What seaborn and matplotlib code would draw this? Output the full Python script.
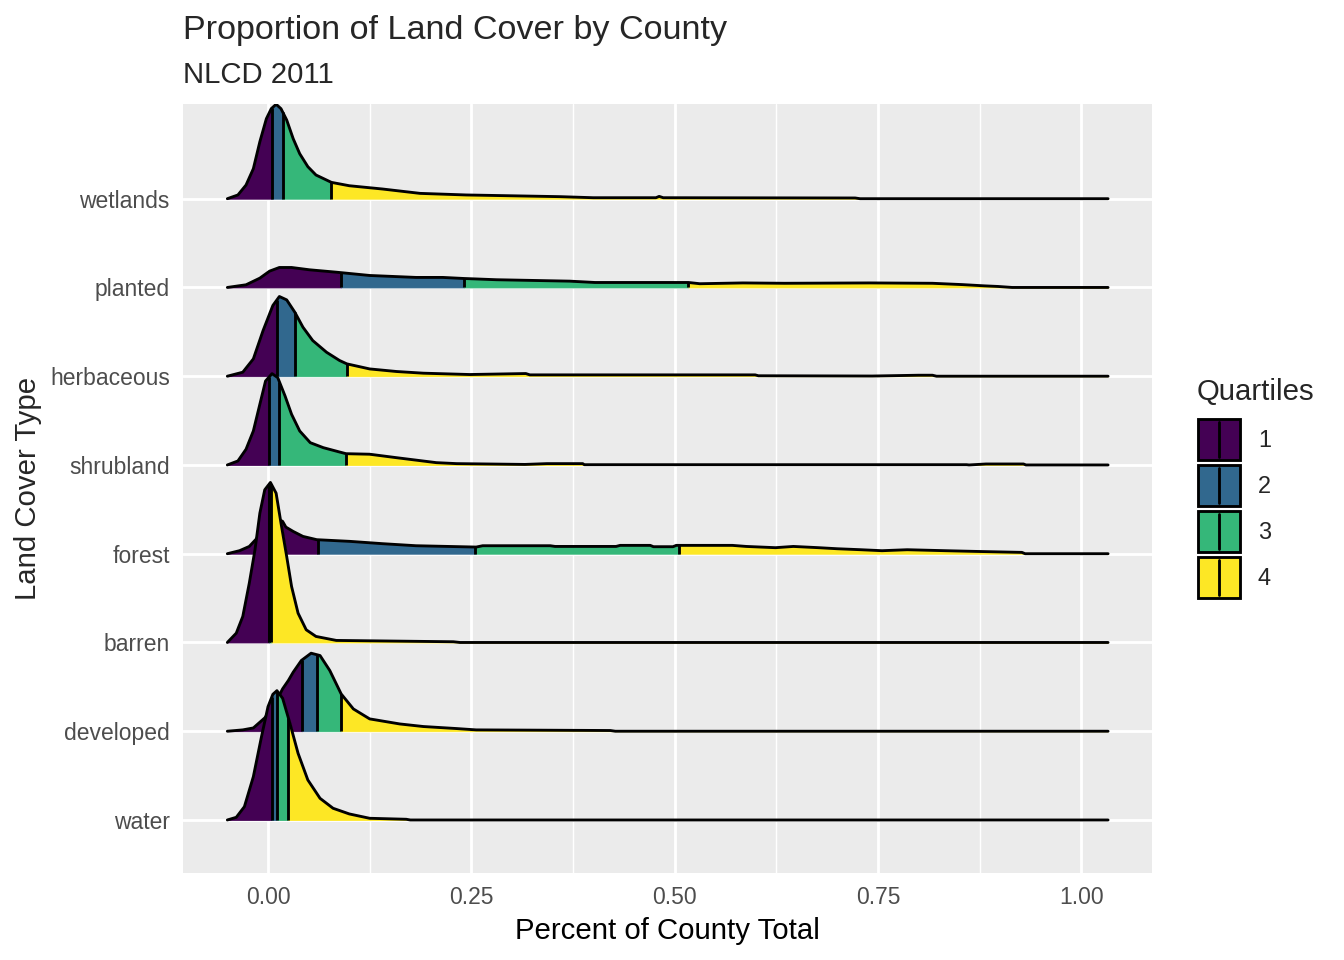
import numpy as np
import matplotlib
matplotlib.use("Agg")
import matplotlib.pyplot as plt
from matplotlib.patches import Patch, Rectangle
from matplotlib.lines import Line2D
from matplotlib.legend_handler import HandlerBase
import seaborn as sns

# land cover types, bottom to top
cover_types = ["water", "developed", "barren", "forest", "shrubland", "herbaceous", "planted", "wetlands"]
quartile_labels = ["1", "2", "3", "4"]
quartile_colors = ["#440154", "#31688E", "#35B779", "#FDE725"]

# ridge profiles: x = share of county, h = ridge height (in rows)
water_x = [-0.050, -0.039, -0.029, -0.018, -0.008, 0.000, 0.006, 0.011, 0.018, 0.027, 0.037, 0.049, 0.064, 0.080, 0.100, 0.125, 0.170, 0.175, 1.033]
water_h = [0.0, 0.030, 0.150, 0.488, 0.938, 1.276, 1.416, 1.457, 1.371, 1.089, 0.751, 0.451, 0.244, 0.132, 0.068, 0.019, 0.008, 0.0, 0.0]
water_q = [0.0045, 0.011, 0.025]

developed_x = [-0.050, -0.031, -0.018, -0.004, 0.007, 0.018, 0.025, 0.031, 0.041, 0.053, 0.064, 0.076, 0.090, 0.105, 0.125, 0.162, 0.191, 0.232, 0.256, 0.421, 0.427, 1.033]
developed_h = [0.0, 0.015, 0.037, 0.150, 0.280, 0.478, 0.571, 0.665, 0.797, 0.879, 0.853, 0.684, 0.420, 0.251, 0.139, 0.082, 0.053, 0.030, 0.015, 0.008, 0.0, 0.0]
developed_q = [0.042, 0.060, 0.090]

barren_x = [-0.050, -0.039, -0.031, -0.023, -0.016, -0.010, -0.004, 0.003, 0.010, 0.016, 0.023, 0.029, 0.037, 0.047, 0.059, 0.084, 0.228, 0.236, 1.033]
barren_h = [0.0, 0.105, 0.293, 0.668, 1.044, 1.457, 1.720, 1.803, 1.682, 1.344, 0.969, 0.631, 0.330, 0.143, 0.068, 0.023, 0.008, 0.0, 0.0]
barren_q = [0.0012, 0.0018, 0.0042]

forest_x = [-0.050, -0.035, -0.023, -0.014, -0.007, 0.002, 0.011, 0.018, 0.022, 0.031, 0.043, 0.060, 0.101, 0.141, 0.182, 0.256, 0.264, 0.347, 0.353, 0.428, 0.433, 0.470, 0.474, 0.498, 0.502, 0.571, 0.588, 0.624, 0.646, 0.677, 0.700, 0.729, 0.755, 0.786, 0.833, 0.870, 0.927, 0.931, 1.033]
forest_h = [0.0, 0.034, 0.082, 0.170, 0.280, 0.370, 0.400, 0.364, 0.300, 0.251, 0.195, 0.158, 0.139, 0.113, 0.090, 0.075, 0.090, 0.090, 0.082, 0.082, 0.094, 0.094, 0.079, 0.079, 0.094, 0.094, 0.082, 0.068, 0.082, 0.068, 0.056, 0.045, 0.034, 0.045, 0.034, 0.026, 0.015, 0.0, 0.0]
forest_q = [0.061, 0.255, 0.506]

shrubland_x = [-0.050, -0.037, -0.027, -0.018, -0.010, -0.003, 0.005, 0.012, 0.021, 0.029, 0.039, 0.052, 0.068, 0.088, 0.096, 0.125, 0.158, 0.207, 0.232, 0.316, 0.343, 0.387, 0.389, 0.859, 0.862, 0.883, 0.929, 0.932, 1.033]
shrubland_h = [0.0, 0.045, 0.177, 0.383, 0.684, 0.946, 1.029, 0.984, 0.777, 0.571, 0.383, 0.251, 0.195, 0.146, 0.127, 0.121, 0.082, 0.026, 0.015, 0.006, 0.015, 0.015, 0.003, 0.003, 0.0, 0.011, 0.011, 0.0, 0.0]
shrubland_q = [0.001, 0.014, 0.096]

herbaceous_x = [-0.050, -0.031, -0.018, -0.006, 0.006, 0.014, 0.023, 0.033, 0.043, 0.055, 0.072, 0.088, 0.097, 0.125, 0.158, 0.191, 0.248, 0.317, 0.322, 0.599, 0.603, 0.743, 0.800, 0.817, 0.822, 1.033]
herbaceous_h = [0.0, 0.045, 0.195, 0.515, 0.797, 0.898, 0.860, 0.721, 0.552, 0.402, 0.270, 0.177, 0.139, 0.082, 0.053, 0.034, 0.019, 0.030, 0.015, 0.015, 0.005, 0.002, 0.011, 0.011, 0.0, 0.0]
herbaceous_q = [0.011, 0.033, 0.097]

planted_x = [-0.050, -0.027, -0.010, 0.002, 0.014, 0.029, 0.051, 0.084, 0.125, 0.182, 0.215, 0.241, 0.281, 0.371, 0.402, 0.517, 0.531, 0.584, 0.635, 0.740, 0.817, 0.854, 0.881, 0.898, 0.915, 1.033]
planted_h = [0.0, 0.030, 0.105, 0.184, 0.225, 0.225, 0.199, 0.172, 0.135, 0.113, 0.113, 0.101, 0.087, 0.071, 0.056, 0.056, 0.042, 0.051, 0.047, 0.051, 0.047, 0.032, 0.018, 0.011, 0.0, 0.0]
planted_q = [0.090, 0.241, 0.517]

wetlands_x = [-0.050, -0.037, -0.027, -0.018, -0.010, -0.002, 0.004, 0.010, 0.016, 0.023, 0.031, 0.039, 0.049, 0.059, 0.078, 0.100, 0.141, 0.187, 0.244, 0.359, 0.400, 0.477, 0.481, 0.486, 0.722, 0.728, 1.033]
wetlands_h = [0.0, 0.042, 0.154, 0.338, 0.642, 0.901, 1.014, 1.064, 1.014, 0.887, 0.676, 0.507, 0.361, 0.267, 0.184, 0.146, 0.109, 0.060, 0.042, 0.023, 0.011, 0.011, 0.026, 0.011, 0.008, 0.0, 0.0]
wetlands_q = [0.005, 0.018, 0.077]

ridges = {
    "water": (water_x, water_h, water_q),
    "developed": (developed_x, developed_h, developed_q),
    "barren": (barren_x, barren_h, barren_q),
    "forest": (forest_x, forest_h, forest_q),
    "shrubland": (shrubland_x, shrubland_h, shrubland_q),
    "herbaceous": (herbaceous_x, herbaceous_h, herbaceous_q),
    "planted": (planted_x, planted_h, planted_q),
    "wetlands": (wetlands_x, wetlands_h, wetlands_q),
}

sns.set_theme(style="darkgrid", rc={
    "axes.facecolor": "#EBEBEB",
    "grid.color": "white",
    "xtick.major.size": 2.75,
    "ytick.major.size": 2.75,
    "xtick.major.width": 1.07,
    "ytick.major.width": 1.07,
    "xtick.color": "#333333",
    "ytick.color": "#333333",
})
plt.rcParams["font.family"] = ["Liberation Sans", "DejaVu Sans"]

LW = 1.07

fig = plt.figure(figsize=(7, 5), dpi=192)
ax = fig.add_axes([183 / 1344, 1 - 872.7 / 960, (1152 - 183) / 1344, (872.7 - 104) / 960])


def draw_ridge(ax, pos, xs, hs, qs):
    xs = np.asarray(xs, dtype=float)
    hs = np.asarray(hs, dtype=float)
    z = 10 + (8 - pos)
    edges = [xs[0]] + list(qs) + [xs[-1]]
    for k in range(4):
        lo, hi = edges[k], edges[k + 1]
        inside = (xs > lo) & (xs < hi)
        seg_x = np.concatenate([[lo], xs[inside], [hi]])
        seg_h = np.interp(seg_x, xs, hs)
        ax.fill_between(seg_x, pos, pos + seg_h, color=quartile_colors[k], lw=0.3,
                        edgecolor=quartile_colors[k], zorder=z)
    for q in qs:
        ax.plot([q, q], [pos, pos + np.interp(q, xs, hs)], color="black", lw=LW,
                zorder=z + 0.1, solid_capstyle="butt")
    sns.lineplot(x=xs, y=pos + hs, color="black", lw=LW, ax=ax, zorder=z + 0.2,
                 estimator=None, sort=False)


for i, name in enumerate(cover_types):
    xs, hs, qs = ridges[name]
    draw_ridge(ax, i, xs, hs, qs)

ax.set_xlim(-0.1045, 1.087)
ax.set_ylim(-0.594, 8.067)
ax.set_xticks([0, 0.25, 0.5, 0.75, 1.0])
ax.set_xticklabels(["0.00", "0.25", "0.50", "0.75", "1.00"])
ax.set_xticks([0.125, 0.375, 0.625, 0.875], minor=True)
ax.set_yticks(range(len(cover_types)))
ax.set_yticklabels(cover_types)
ax.grid(which="major", color="white", lw=LW)
ax.grid(which="minor", axis="x", color="white", lw=LW / 2)
ax.set_axisbelow(True)
ax.tick_params(axis="both", which="major", labelsize=8.6, labelcolor="#4D4D4D", pad=2.2)
ax.tick_params(axis="x", which="minor", length=0)
for s in ax.spines.values():
    s.set_visible(False)

ax.set_xlabel("Percent of County Total", fontsize=11, color="black", labelpad=3)
ax.set_ylabel("")
fig.text(28 / 1344, 1 - 488 / 960, "Land Cover Type", rotation=90, fontsize=11,
         ha="center", va="center")

fig.text(183 / 1344, 1 - 31 / 960, "Proportion of Land Cover by County", fontsize=12.8,
         ha="left", va="center")
fig.text(183 / 1344, 1 - 75 / 960, "NLCD 2011", fontsize=11, ha="left", va="center")


class QuartileKey(HandlerBase):
    # filled square with a centred vertical line, like the ridge quantile lines
    def create_artists(self, legend, orig_handle, xdescent, ydescent, width, height, fontsize, trans):
        x0, y0 = -xdescent, -ydescent
        rect = Rectangle((x0, y0), width, height, facecolor=orig_handle.get_facecolor(),
                         edgecolor="black", lw=LW, transform=trans)
        line = Line2D([x0 + width / 2] * 2, [y0 + height * 0.08, y0 + height * 0.92],
                      color="black", lw=LW, transform=trans)
        return [rect, line]


fig.text(1197 / 1344, 1 - 392 / 960, "Quartiles", fontsize=11, ha="left", va="center")
handles = [Patch(facecolor=c, edgecolor="black") for c in quartile_colors]
leg = fig.legend(handles=handles, labels=quartile_labels,
                 handler_map={Patch: QuartileKey()},
                 loc="upper left",
                 bbox_to_anchor=(1198 / 1344, 1 - 419 / 960),
                 frameon=False, fontsize=8.8,
                 handlelength=1.8, handleheight=2.3, labelspacing=0.22,
                 handletextpad=0.75, borderaxespad=0, borderpad=0)

fig.savefig("out.png", dpi=192)
